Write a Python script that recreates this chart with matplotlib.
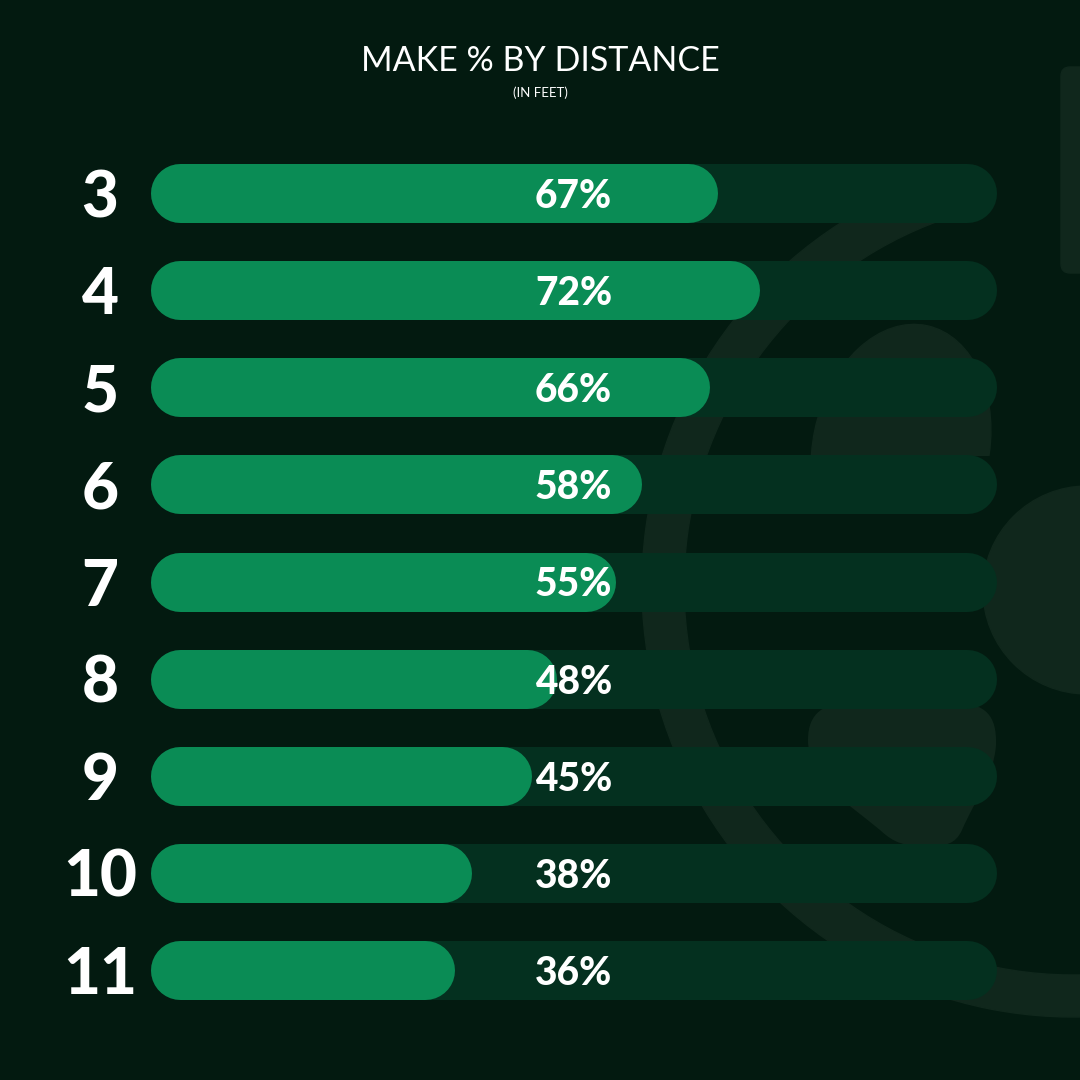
import matplotlib
matplotlib.use("Agg")
import matplotlib.pyplot as plt
from matplotlib.patches import Wedge, Circle, Ellipse, Rectangle, FancyBboxPatch, PathPatch
from matplotlib.path import Path

# ---- data ----
distances = ["3", "4", "5", "6", "7", "8", "9", "10", "11"]
make_pct = [67, 72, 66, 58, 55, 48, 45, 38, 36]
title = "MAKE % BY DISTANCE"
subtitle = "(IN FEET)"

# ---- style ----
BG = "#031a10"
TRACK = "#04301f"
FILL = "#0a8c55"
DECO = "#10271c"
W = H = 1080
DPI = 100

fig = plt.figure(figsize=(W / DPI, H / DPI), dpi=DPI, facecolor=BG)

# background decoration axes (pixel coords, y down)
bg = fig.add_axes([0, 0, 1, 1], zorder=0)
bg.set_xlim(0, W)
bg.set_ylim(H, 0)
bg.axis("off")
bg.add_patch(Rectangle((0, 0), W, H, color=BG, zorder=0))
bg.add_patch(Wedge((1073, 586), 431, -20, 257, width=42, color=DECO, zorder=1))
bg.add_patch(Circle((1087, 590), 104, color=DECO, zorder=1))
bg.add_patch(FancyBboxPatch((1061, 67), 60, 206, boxstyle="round,pad=0,rounding_size=9",
                            color=DECO, zorder=1))
egg = Ellipse((901, 448), 176, 250, angle=12, color=DECO, zorder=1)
bg.add_patch(egg)
egg.set_clip_path(Rectangle((700, 300), 400, 156, transform=bg.transData))
verts = [(808, 740), (808, 712), (825, 703), (850, 703),
         (955, 703), (955, 703), (955, 703),
         (985, 703), (997, 715), (996, 745),
         (994, 775), (975, 800), (962, 830),
         (955, 845), (945, 846), (927, 846),
         (905, 846), (895, 844), (880, 830),
         (850, 805), (808, 780), (808, 740)]
codes = [Path.MOVETO] + [Path.CURVE4] * 3 + [Path.LINETO] * 3 + [Path.CURVE4] * 15
bg.add_patch(PathPatch(Path(verts, codes), color=DECO, lw=0, zorder=1))

# title
fig.text(540 / W, 1 - 61 / H, title, ha="center", va="center", color="white",
         fontsize=24.5, family="Lato", fontweight="normal")
fig.text(540 / W, 1 - 93 / H, subtitle, ha="center", va="center", color="white",
         fontsize=9.5, family="Lato", fontweight="normal")

# bars axes: x in percent, y in category index
x0_px, x1_px = 150, 997
top_px, step = 193, (970 - 193) / (len(distances) - 1)
ax_top = top_px - step / 2
ax_bot = top_px + step * (len(distances) - 0.5)
ax = fig.add_axes([x0_px / W, 1 - ax_bot / H, (x1_px - x0_px) / W, (ax_bot - ax_top) / H], zorder=2)
ax.set_facecolor("none")
ax.set_xlim(0, 100)
ax.set_ylim(len(distances) - 0.5, -0.5)
ax.axis("off")

bar_h_px = 59
lw_pt = bar_h_px * 72 / DPI
cap = (bar_h_px / 2) / (x1_px - x0_px) * 100  # cap radius in percent units

for i, (d, v) in enumerate(zip(distances, make_pct)):
    ax.plot([cap, 100 - cap], [i, i], color=TRACK, lw=lw_pt, solid_capstyle="round", zorder=1)
    ax.plot([cap, v - cap], [i, i], color=FILL, lw=lw_pt, solid_capstyle="round", zorder=2)
    ax.text(50, i, f"{v}%", ha="center", va="center_baseline", color="white",
            fontsize=28, family="Lato", fontweight="black", zorder=3)
    ax.text((100 - x0_px) / (x1_px - x0_px) * 100, i, d, ha="center", va="center_baseline",
            color="white", fontsize=46, family="Lato", fontweight="black", clip_on=False, zorder=3)

fig.savefig("out.png", dpi=DPI, facecolor=BG)
